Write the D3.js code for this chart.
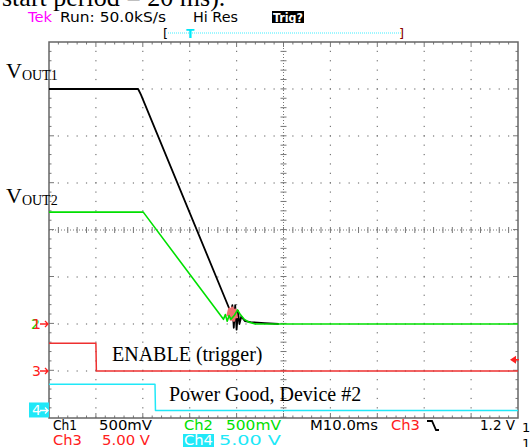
<!DOCTYPE html>
<html>
<head>
<meta charset="utf-8">
<script src="https://cdn.jsdelivr.net/npm/d3@7"></script>
<style>
  html, body { margin: 0; padding: 0; background: #fff; }
  svg { display: block; }
</style>
</head>
<body>
<svg id="scope" width="530" height="447"></svg>
<script>
// time axis in ms (10 ms/div), vertical in divisions
const timeDomain = [0, 100];
const divDomain = [-4, 4];

// channel settings: volts per div and ground position (div)
const ch1Setup = { vdiv: 0.5, ground: -2 };
const ch2Setup = { vdiv: 0.5, ground: -2 };
const ch3Setup = { vdiv: 5, ground: -3 };
const ch4Setup = { vdiv: 5, ground: -3.84 };

// traces: [ms, volts]
const ch1Trace = [[0, 2.5], [19, 2.5], [19.6, 2.44], [38.8, 0.12], [39.1, 0.2], [39.4, -0.04],
  [39.7, 0.2], [40.0, -0.06], [40.3, 0.14], [40.6, 0.0], [41.0, 0.08], [41.8, 0.03],
  [43, 0.02], [46, 0.01], [49, 0]];
const ch2Trace = [[0, 1.19], [20.1, 1.19], [37.2, 0.05], [37.6, 0.1], [38.0, 0.03],
  [38.4, 0.09], [38.8, 0.05], [39.5, 0.09], [40.2, 0.15], [40.8, 0.1], [41.6, 0.05],
  [42.6, 0.02], [44, 0], [100, 0]];
const glitchTrace = [[38.1, 0.08], [38.5, 0.16], [38.8, 0.05], [39.1, 0.17], [39.4, 0.04],
  [39.7, 0.15], [40.0, 0.06]];
const ch3Trace = [[0, 2.95], [10, 2.95], [10.1, 0], [100, 0]];
const ch4Trace = [[0, 2.8], [22.6, 2.8], [22.7, 0], [100, 0]];

// status text
const headerItems = [
  { text: "Tek", x: 28, w: 24, color: "#ff00ff" },
  { text: "Run: 50.0kS/s", x: 60, w: 106, color: "#000" },
  { text: "Hi Res", x: 193, w: 45, color: "#000" }
];
const footerRow1 = [
  { text: "Ch1", x: 53, w: 24, color: "#000" },
  { text: "500mV", x: 99, w: 53, color: "#000" },
  { text: "Ch2", x: 184, w: 29, color: "#00e000" },
  { text: "500mV", x: 226, w: 55, color: "#00e000" },
  { text: "M10.0ms", x: 310, w: 68, color: "#000" },
  { text: "Ch3", x: 391, w: 29, color: "#ff2020" },
  { text: "1.2 V", x: 480, w: 35, color: "#000" }
];
const footerRow2 = [
  { text: "Ch3", x: 53, w: 29, color: "#ff2020" },
  { text: "5.00 V", x: 102, w: 48, color: "#ff2020" },
  { text: "5.00 V", x: 219, w: 62, color: "#20e8f8" }
];

const svg = d3.select("#scope");
const plotLeft = 49, plotRight = 518, plotTop = 42, plotBottom = 418;
const x = d3.scaleLinear().domain(timeDomain).range([plotLeft, plotRight]);
const y = d3.scaleLinear().domain(divDomain).range([plotBottom, plotTop]);
const minor = (plotRight - plotLeft) / 50;

const monoFont = "DejaVu Sans, sans-serif";
const serif = "Liberation Serif, Times New Roman, serif";

// cut-off caption line at the very top
svg.append("text").attr("x", 2).attr("y", 6)
  .attr("font-family", serif).attr("font-size", 26)
  .text("start period = 20 ms).");

// header
headerItems.forEach(d => {
  svg.append("text").attr("x", d.x).attr("y", 22)
    .attr("font-family", monoFont).attr("font-size", 14)
    .attr("textLength", d.w).attr("lengthAdjust", "spacingAndGlyphs")
    .attr("fill", d.color).text(d.text);
});
svg.append("rect").attr("x", 272).attr("y", 11).attr("width", 32).attr("height", 12).attr("fill", "#000");
svg.append("text").attr("x", 273).attr("y", 22)
  .attr("font-family", monoFont).attr("font-size", 13).attr("font-weight", "bold")
  .attr("textLength", 30).attr("lengthAdjust", "spacingAndGlyphs")
  .attr("fill", "#fff").text("Trig?");

// record-length bar
svg.append("line").attr("x1", 168).attr("x2", 401).attr("y1", 33).attr("y2", 33)
  .attr("stroke", "#40f0ff").attr("stroke-width", 1.2).attr("stroke-dasharray", "1,1");
svg.append("text").attr("x", 163).attr("y", 38).attr("font-family", monoFont)
  .attr("font-size", 13).attr("fill", "#000").text("[");
svg.append("text").attr("x", 399).attr("y", 38).attr("font-family", monoFont)
  .attr("font-size", 13).attr("fill", "#800").text("]");
svg.append("text").attr("x", 186).attr("y", 38).attr("font-family", monoFont)
  .attr("font-size", 12).attr("font-weight", "bold").attr("fill", "#00e8f8").text("T");

// graticule
const grid = svg.append("g");
const gridColor = "#777";
d3.range(1, 10).forEach(i => {
  if (i === 5) return;
  const gx = plotLeft + i * (plotRight - plotLeft) / 10;
  d3.range(plotTop + minor, plotBottom, minor).forEach(py => {
    grid.append("rect").attr("x", gx - 0.6).attr("y", py - 0.6).attr("width", 1.2).attr("height", 1.2).attr("fill", gridColor);
  });
});
d3.range(1, 8).forEach(j => {
  if (j === 4) return;
  const gy = plotTop + j * (plotBottom - plotTop) / 8;
  d3.range(plotLeft + minor, plotRight, minor).forEach(px => {
    grid.append("rect").attr("x", px - 0.6).attr("y", gy - 0.6).attr("width", 1.2).attr("height", 1.2).attr("fill", gridColor);
  });
});
// center cross
const cx = x(50), cy = y(0);
grid.append("line").attr("x1", plotLeft).attr("x2", plotRight).attr("y1", cy).attr("y2", cy)
  .attr("stroke", gridColor).attr("stroke-dasharray", "1,2");
grid.append("line").attr("x1", cx).attr("x2", cx).attr("y1", plotTop).attr("y2", plotBottom)
  .attr("stroke", gridColor).attr("stroke-dasharray", "1,2");
d3.range(plotLeft + minor, plotRight, minor).forEach(px => {
  grid.append("line").attr("x1", px).attr("x2", px).attr("y1", cy - 3).attr("y2", cy + 3).attr("stroke", gridColor);
});
d3.range(plotTop + minor, plotBottom, minor).forEach(py => {
  grid.append("line").attr("x1", cx - 3).attr("x2", cx + 3).attr("y1", py).attr("y2", py).attr("stroke", gridColor);
});
// border ticks
d3.range(plotLeft + minor, plotRight - 1, minor).forEach((px, i) => {
  const len = (i + 1) % 5 === 0 ? 5 : 2.5;
  grid.append("line").attr("x1", px).attr("x2", px).attr("y1", plotTop).attr("y2", plotTop + len).attr("stroke", gridColor);
  grid.append("line").attr("x1", px).attr("x2", px).attr("y1", plotBottom).attr("y2", plotBottom - len).attr("stroke", gridColor);
});
d3.range(plotTop + minor, plotBottom - 1, minor).forEach((py, i) => {
  const len = (i + 1) % 5 === 0 ? 5 : 2.5;
  grid.append("line").attr("x1", plotLeft).attr("x2", plotLeft + len).attr("y1", py).attr("y2", py).attr("stroke", gridColor);
  grid.append("line").attr("x1", plotRight).attr("x2", plotRight - len).attr("y1", py).attr("y2", py).attr("stroke", gridColor);
});
grid.append("rect").attr("x", plotLeft).attr("y", plotTop).attr("width", plotRight - plotLeft).attr("height", plotBottom - plotTop)
  .attr("fill", "none").attr("stroke", "#666").attr("stroke-width", 1.5);

// traces
function drawTrace(data, setup, color, width) {
  const line = d3.line()
    .x(d => x(d[0]))
    .y(d => y(setup.ground + d[1] / setup.vdiv));
  svg.append("path").datum(data).attr("d", line)
    .attr("fill", "none").attr("stroke", color).attr("stroke-width", width)
    .attr("stroke-linejoin", "round");
}
drawTrace(ch4Trace, ch4Setup, "#20e8f8", 1.5);
drawTrace(ch3Trace, ch3Setup, "#ee3030", 1.5);
drawTrace(ch1Trace, ch1Setup, "#000", 1.8);
drawTrace(glitchTrace, ch1Setup, "#f07070", 3);
drawTrace(ch2Trace, ch2Setup, "#00e000", 1.6);

// ground markers
function marker(label, gy, color, boxed) {
  if (boxed) {
    svg.append("rect").attr("x", 29).attr("y", gy - 8).attr("width", 20).attr("height", 15).attr("fill", color);
  }
  svg.append("text").attr("x", 32).attr("y", gy + 5).attr("font-family", monoFont)
    .attr("font-size", 14).attr("fill", boxed ? "#fff" : color).text(label);
  svg.append("path").attr("d", `M40,${gy}H48M45,${gy - 3}L48,${gy}L45,${gy + 3}`)
    .attr("fill", "none").attr("stroke", boxed ? "#fff" : color).attr("stroke-width", 1.3);
}
svg.append("text").attr("x", 31).attr("y", y(ch2Setup.ground) + 5).attr("font-family", monoFont)
  .attr("font-size", 14).attr("fill", "#00e000").text("2");
marker("1", y(ch1Setup.ground), "#ff2020", false);
marker("3", y(ch3Setup.ground), "#ff2020", false);
marker("4", y(ch4Setup.ground), "#20e8f8", true);

// trigger level arrow on right
const trigY = y(ch3Setup.ground + 1.2 / ch3Setup.vdiv);
svg.append("path").attr("d", `M510,${trigY}L516,${trigY - 4}L516,${trigY + 4}Z`).attr("fill", "#ff2020");
svg.append("line").attr("x1", 514).attr("x2", 519).attr("y1", trigY).attr("y2", trigY).attr("stroke", "#ff2020").attr("stroke-width", 1.5);

// annotations
function vLabel(sub, bx, by) {
  const t = svg.append("text").attr("x", bx).attr("y", by).attr("font-family", serif);
  t.append("tspan").attr("font-size", 22).text("V");
  t.append("tspan").attr("font-size", 14).attr("dy", 2).text(sub);
}
vLabel("OUT1", 6, 78);
vLabel("OUT2", 6, 203);
svg.append("text").attr("x", 112).attr("y", 361).attr("font-family", serif)
  .attr("font-size", 20).text("ENABLE (trigger)");
svg.append("text").attr("x", 169).attr("y", 401).attr("font-family", serif)
  .attr("font-size", 20).text("Power Good, Device #2");

// footer
function footer(items, by) {
  items.forEach(d => {
    svg.append("text").attr("x", d.x).attr("y", by)
      .attr("font-family", monoFont).attr("font-size", 14)
      .attr("textLength", d.w).attr("lengthAdjust", "spacingAndGlyphs")
      .attr("fill", d.color).text(d.text);
  });
}
footer(footerRow1, 430);
footer(footerRow2, 445);
svg.append("rect").attr("x", 183).attr("y", 434).attr("width", 31).attr("height", 13).attr("fill", "#20e8f8");
svg.append("text").attr("x", 184).attr("y", 445).attr("font-family", monoFont).attr("font-size", 14)
  .attr("textLength", 29).attr("lengthAdjust", "spacingAndGlyphs").attr("fill", "#fff").text("Ch4");
// falling-edge symbol
svg.append("path").attr("d", "M427,421H432L436,430H439").attr("fill", "none").attr("stroke", "#000").attr("stroke-width", 1.8);
svg.append("text").attr("x", 522).attr("y", 432).attr("font-family", monoFont).attr("font-size", 13).text("1");
svg.append("text").attr("x", 522).attr("y", 448).attr("font-family", monoFont).attr("font-size", 13).text("1");
</script>
</body>
</html>
